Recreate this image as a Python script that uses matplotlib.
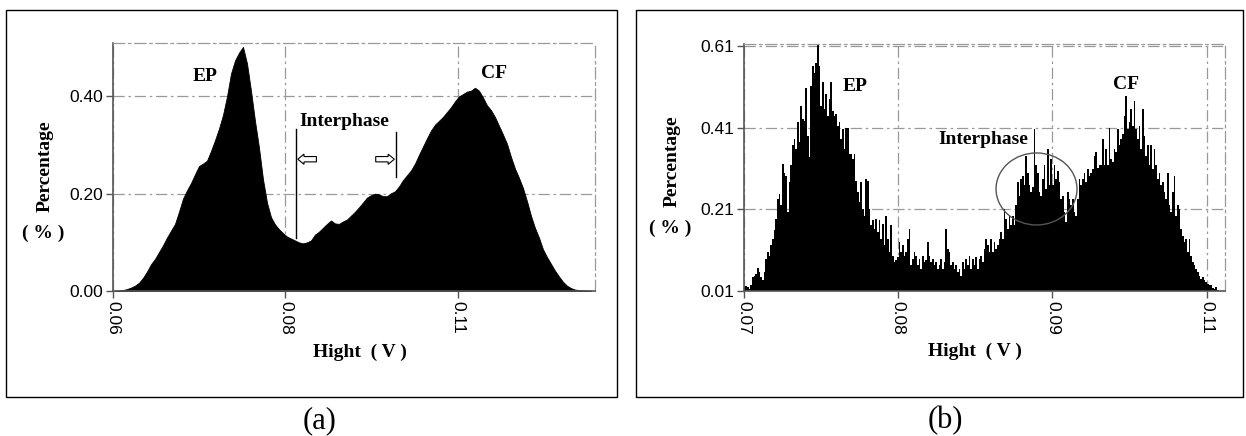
import numpy as np
import matplotlib.pyplot as plt
from matplotlib.patches import Ellipse, Rectangle, FancyArrow

plt.rcParams['font.family'] = 'Liberation Sans'
SERIF = 'Liberation Serif'

# (a) histogram heights (%), left to right
pct_a = [0.000, 0.001, 0.002, 0.004, 0.007, 0.011, 0.017, 0.027, 0.040, 0.055,
         0.066, 0.080, 0.094, 0.110, 0.124, 0.138, 0.163, 0.190, 0.207, 0.222,
         0.240, 0.257, 0.262, 0.268, 0.288, 0.310, 0.334, 0.362, 0.400, 0.447,
         0.474, 0.490, 0.502, 0.468, 0.412, 0.350, 0.295, 0.230, 0.182, 0.152,
         0.137, 0.127, 0.119, 0.112, 0.108, 0.104, 0.100, 0.098, 0.100, 0.104,
         0.116, 0.122, 0.130, 0.138, 0.145, 0.139, 0.138, 0.143, 0.147, 0.155,
         0.163, 0.172, 0.182, 0.192, 0.197, 0.200, 0.199, 0.195, 0.195, 0.201,
         0.205, 0.215, 0.228, 0.238, 0.248, 0.262, 0.280, 0.297, 0.314, 0.330,
         0.342, 0.350, 0.358, 0.368, 0.378, 0.390, 0.400, 0.405, 0.410, 0.412,
         0.418, 0.412, 0.398, 0.382, 0.372, 0.358, 0.340, 0.322, 0.303, 0.276,
         0.252, 0.233, 0.212, 0.185, 0.155, 0.130, 0.110, 0.086, 0.070, 0.056,
         0.042, 0.030, 0.019, 0.011, 0.006, 0.003, 0.002, 0.001, 0.001, 0.000]
range_a = (0.06, 0.1296)
xlim_a = (0.06, 0.1299)
ylim_a = (0.0, 0.51)
xticks_a = [0.06, 0.085, 0.11]
xticklabels_a = ['0.06', '0.08', '0.11']
yticks_a = [0.0, 0.2, 0.4]
yticklabels_a = ['0.00', '0.20', '0.40']

# (b) histogram heights (%), left to right
pct_b = [0.020, 0.022, 0.020, 0.014, 0.024, 0.044, 0.047, 0.052, 0.066, 0.057,
         0.044, 0.036, 0.057, 0.089, 0.105, 0.097, 0.122, 0.138, 0.159, 0.187,
         0.236, 0.248, 0.220, 0.322, 0.300, 0.293, 0.203, 0.277, 0.318, 0.367,
         0.383, 0.358, 0.424, 0.375, 0.465, 0.432, 0.428, 0.509, 0.391, 0.338,
         0.513, 0.562, 0.546, 0.570, 0.620, 0.562, 0.465, 0.522, 0.456, 0.493,
         0.440, 0.481, 0.522, 0.452, 0.440, 0.444, 0.416, 0.424, 0.383, 0.407,
         0.358, 0.411, 0.411, 0.346, 0.346, 0.334, 0.346, 0.281, 0.252, 0.228,
         0.277, 0.212, 0.195,
         0.285, 0.281, 0.212, 0.171, 0.183, 0.163, 0.187, 0.154, 0.183, 0.138,
         0.175, 0.122, 0.195, 0.138, 0.105, 0.171, 0.097, 0.081, 0.085, 0.093,
         0.130, 0.105, 0.122, 0.097, 0.105, 0.138, 0.163, 0.073, 0.089, 0.105,
         0.097, 0.073, 0.089, 0.065, 0.097, 0.081, 0.085, 0.130, 0.097, 0.081,
         0.089, 0.073, 0.081, 0.065, 0.073, 0.089, 0.065, 0.081, 0.163, 0.114,
         0.105, 0.073, 0.081, 0.065, 0.073, 0.057, 0.065, 0.048, 0.081, 0.065,
         0.089, 0.073, 0.097, 0.065, 0.089, 0.073, 0.093, 0.065, 0.089, 0.097,
         0.081, 0.114,
         0.138, 0.122, 0.105, 0.138, 0.105, 0.130, 0.114, 0.122, 0.138, 0.154,
         0.138, 0.212, 0.187, 0.163, 0.195, 0.171, 0.195, 0.171, 0.220, 0.277,
         0.244, 0.285, 0.293, 0.269, 0.342, 0.300, 0.269, 0.252, 0.265, 0.407,
         0.318, 0.300, 0.252, 0.244, 0.285, 0.318, 0.260, 0.358, 0.269, 0.334,
         0.269, 0.318, 0.285, 0.305, 0.277, 0.236, 0.244, 0.203, 0.179, 0.252,
         0.236, 0.220, 0.236, 0.203, 0.195, 0.236, 0.285, 0.269, 0.285, 0.300,
         0.277, 0.309, 0.293, 0.300, 0.309, 0.342, 0.350, 0.313, 0.318, 0.318,
         0.383, 0.318,
         0.358, 0.318, 0.411, 0.334, 0.326, 0.358, 0.350, 0.407, 0.367, 0.383,
         0.395, 0.440, 0.489, 0.407, 0.424, 0.456, 0.416, 0.477, 0.407, 0.383,
         0.416, 0.358, 0.456, 0.391, 0.342, 0.367, 0.318, 0.367, 0.309, 0.358,
         0.318, 0.285, 0.300, 0.269, 0.277, 0.252, 0.236, 0.300, 0.220, 0.203,
         0.252, 0.293, 0.195, 0.220, 0.212, 0.163, 0.146, 0.129, 0.138, 0.105,
         0.138, 0.097, 0.081, 0.073, 0.065, 0.057, 0.048, 0.040, 0.044, 0.036,
         0.032, 0.028, 0.024, 0.024, 0.017, 0.014, 0.020, 0.012, 0.010, 0.010,
         0.010, 0.010]
range_b = (0.07, 0.1116)
xlim_b = (0.07, 0.1116)
ylim_b = (0.01, 0.616)
xticks_b = [0.07, 0.08333, 0.09667, 0.11]
xticklabels_b = ['0.07', '0.08', '0.09', '0.11']
yticks_b = [0.01, 0.21, 0.41, 0.61]
yticklabels_b = ['0.01', '0.21', '0.41', '0.61']

DASHDOT = (0, (9, 3, 2, 3))


def style(ax, xlim, ylim, xt, xtl, yt, ytl):
    ax.set_xlim(xlim)
    ax.set_ylim(ylim)
    ax.set_xticks(xt)
    ax.set_xticklabels(xtl, rotation=270)
    ax.set_yticks(yt)
    ax.set_yticklabels(ytl)
    ax.tick_params(direction='out', length=5, width=1, color='#555',
                   labelsize=12.5, pad=2)
    ax.set_axisbelow(True)
    ax.grid(True, color='#999', lw=0.9, ls=DASHDOT)
    for s in ['top', 'right']:
        ax.spines[s].set_linestyle(DASHDOT)
        ax.spines[s].set_color('#999')
        ax.spines[s].set_linewidth(0.9)
    for s in ['left', 'bottom']:
        ax.spines[s].set_color('#555')
        ax.spines[s].set_linewidth(1.2)


def labels(ax, xlab_x, ylab_x, ylab_y, pct_x, pct_y):
    ax.text(xlab_x, -0.246, 'Hight  ( V )', transform=ax.transAxes, family=SERIF,
            fontweight='bold', fontsize=14, ha='center', va='center')
    ax.text(ylab_x, ylab_y, 'Percentage', transform=ax.transAxes, family=SERIF,
            fontweight='bold', fontsize=14, ha='center', va='center', rotation=90)
    ax.text(pct_x, pct_y, '( % )', transform=ax.transAxes, family=SERIF,
            fontweight='bold', fontsize=14, ha='center', va='center')


fig = plt.figure(figsize=(12.46, 4.36), dpi=100)

# panel frames
fig.add_artist(Rectangle((6 / 1246, 1 - 397 / 436), 611 / 1246, 387 / 436,
                         transform=fig.transFigure, fill=False, ec='black', lw=1))
fig.add_artist(Rectangle((636 / 1246, 1 - 397 / 436), 607 / 1246, 387 / 436,
                         transform=fig.transFigure, fill=False, ec='black', lw=1))

# (a)
ax1 = fig.add_axes([113 / 1246, 1 - 291 / 436, 482 / 1246, 248 / 436])
edges_a = np.linspace(range_a[0], range_a[1], len(pct_a) + 1)
centers_a = (edges_a[:-1] + edges_a[1:]) / 2
ax1.fill_between(centers_a, pct_a, color='black', lw=0.6, edgecolor='black')
style(ax1, xlim_a, ylim_a, xticks_a, xticklabels_a, yticks_a, yticklabels_a)
labels(ax1, 0.512, -0.141, 0.504, -0.145, 0.234)

ax1.text(0.07334, 0.442, 'EP', family=SERIF, fontweight='bold', fontsize=14,
         ha='center', va='center')
ax1.text(0.11525, 0.448, 'CF', family=SERIF, fontweight='bold', fontsize=14,
         ha='center', va='center')
ax1.text(0.0935, 0.349, 'Interphase', family=SERIF, fontweight='bold',
         fontsize=14, ha='center', va='center')
ax1.plot([0.08655, 0.08655], [0.109, 0.333], color='black', lw=1)
ax1.plot([0.1010, 0.1010], [0.234, 0.327], color='black', lw=1)
# hollow arrows of the interphase band
ax1.add_patch(FancyArrow(0.0895, 0.271, -0.0027, 0, width=0.011,
                         head_width=0.021, head_length=0.0009,
                         length_includes_head=True,
                         fc='white', ec='black', lw=0.8, zorder=5))
ax1.add_patch(FancyArrow(0.0981, 0.271, 0.0027, 0, width=0.011,
                         head_width=0.021, head_length=0.0009,
                         length_includes_head=True,
                         fc='white', ec='black', lw=0.8, zorder=5))

# (b)
ax2 = fig.add_axes([743.5 / 1246, 1 - 291 / 436, 481.8 / 1246, 247 / 436])
edges_b = np.linspace(range_b[0], range_b[1], len(pct_b) + 1)
ax2.bar(edges_b[:-1], pct_b, width=np.diff(edges_b), align='edge',
        color='black', linewidth=0)
style(ax2, xlim_b, ylim_b, xticks_b, xticklabels_b, yticks_b, yticklabels_b)
labels(ax2, 0.48, -0.148, 0.526, -0.153, 0.255)

ax2.text(0.07962, 0.511, 'EP', family=SERIF, fontweight='bold', fontsize=14,
         ha='center', va='center')
ax2.text(0.1030, 0.5156, 'CF', family=SERIF, fontweight='bold', fontsize=14,
         ha='center', va='center')
ax2.text(0.09074, 0.3806, 'Interphase', family=SERIF, fontweight='bold',
         fontsize=14, ha='center', va='center')
ax2.add_patch(Ellipse((0.0953, 0.2603), 0.00699, 0.1767, fill=False,
                      ec='#555', lw=1, zorder=5))

fig.text(320 / 1246, 1 - 421 / 436, '(a)', family=SERIF, fontsize=22,
         ha='center', va='center')
fig.text(945 / 1246, 1 - 421 / 436, '(b)', family=SERIF, fontsize=22,
         ha='center', va='center')

fig.savefig('out.png', dpi=100)
